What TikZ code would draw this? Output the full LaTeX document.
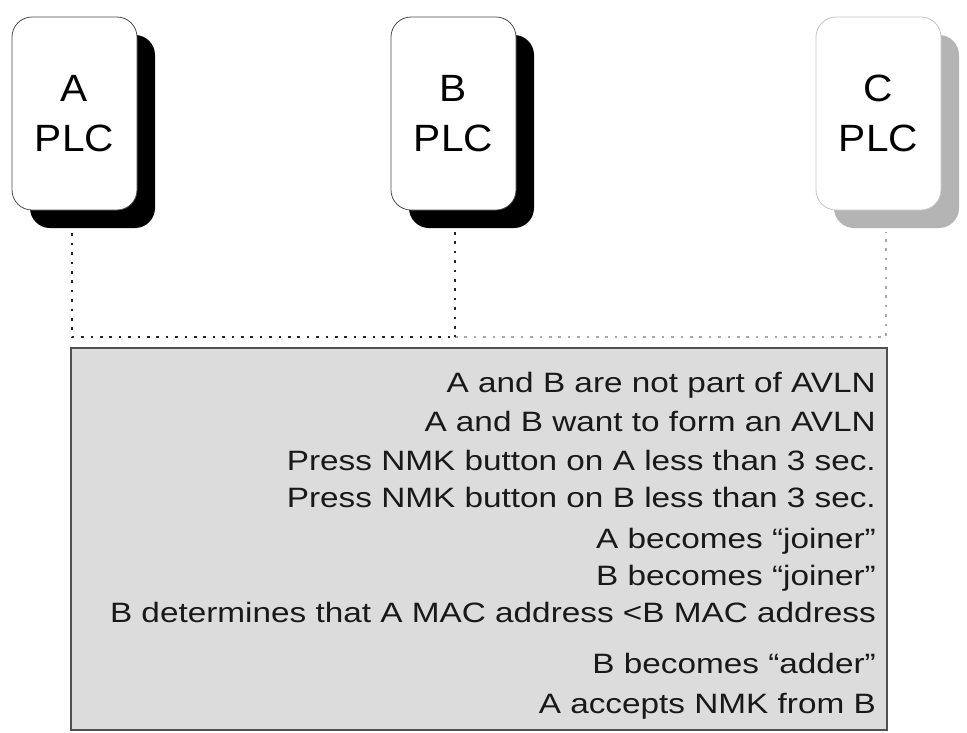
\documentclass[tikz,border=0pt]{standalone}
\usepackage{fontspec}
\setmainfont{Liberation Sans}
\newfontfamily\widefont[FakeStretch=1.19]{Liberation Sans}
\newfontfamily\plcfont[FakeStretch=1.07]{Liberation Sans}
\usetikzlibrary{shadows}
\definecolor{panelgray}{HTML}{DCDCDC}
\definecolor{paneledge}{HTML}{505050}
\definecolor{lightedge}{HTML}{C4C4C4}
\definecolor{lightshadow}{HTML}{B4B4B4}
\definecolor{dotgray}{HTML}{A8A8A8}
\begin{document}
\begin{tikzpicture}[x=1pt,y=-1pt,
  plcbox/.style={draw=#1, line width=0.8pt, fill=white, rounded corners=20pt,
    minimum width=125pt, minimum height=193pt, inner sep=0pt, align=center,
    font=\plcfont\fontsize{38}{50}\selectfont},
  darkplc/.style={plcbox=black!70, drop shadow={shadow xshift=18pt, shadow yshift=-18pt, fill=black, opacity=1}},
  lightplc/.style={plcbox=lightedge, drop shadow={shadow xshift=18pt, shadow yshift=-18pt, fill=lightshadow, opacity=1}},
  dotblack/.style={line width=2.6pt, dash pattern=on 2.6pt off 6.8pt, black!85},
  dotlight/.style={line width=2.6pt, dash pattern=on 2.6pt off 6.8pt, dotgray},
  panel/.style={draw=paneledge, line width=1.6pt, fill=panelgray, inner sep=0pt},
  step text/.style={anchor=base east, inner sep=0pt, font=\widefont\fontsize{28}{30}\selectfont, text=black!90}
]
\useasboundingbox (0,0) rectangle (967,732);
\fill[white] (0,0) rectangle (967,732);

% junction coordinates
\coordinate (jA) at (72,337);
\coordinate (jB) at (455,337);
\coordinate (jC) at (886,337);
\coordinate (cC) at (886,232);
\coordinate (aA) at (72,224);
\coordinate (aB) at (455,232);

% dotted connectors
\draw[dotlight] (jB) -- (jC) -- (cC);
\draw[dotblack] (aA) -- (jA) -- (jB);
\draw[dotblack] (aB) -- (jB);

% PLC boxes
\node[darkplc] (A) at (74.5,113.5) {A\\PLC};
\node[darkplc] (B) at (453.5,113.5) {B\\PLC};
\node[lightplc] (C) at (878.5,113.5) {C\\PLC};

% panel
\node[panel, minimum width=816pt, minimum height=382pt] (P) at (479,539) {};

\node[step text] (t1) at (876,392) {A and B are not part of AVLN};
\node[step text] (t2) at (876,431) {A and B want to form an AVLN};
\node[step text] (t3) at (876,470) {Press NMK button on A less than 3 sec.};
\node[step text] (t4) at (876,507) {Press NMK button on B less than 3 sec.};
\node[step text] (t5) at (876,548) {A becomes “joiner”};
\node[step text] (t6) at (876,585) {B becomes “joiner”};
\node[step text] (t7) at (876,622) {B determines that A MAC address <B MAC address};
\node[step text] (t8) at (876,673) {B becomes “adder”};
\node[step text] (t9) at (876,713) {A accepts NMK from B};
\end{tikzpicture}
\end{document}
